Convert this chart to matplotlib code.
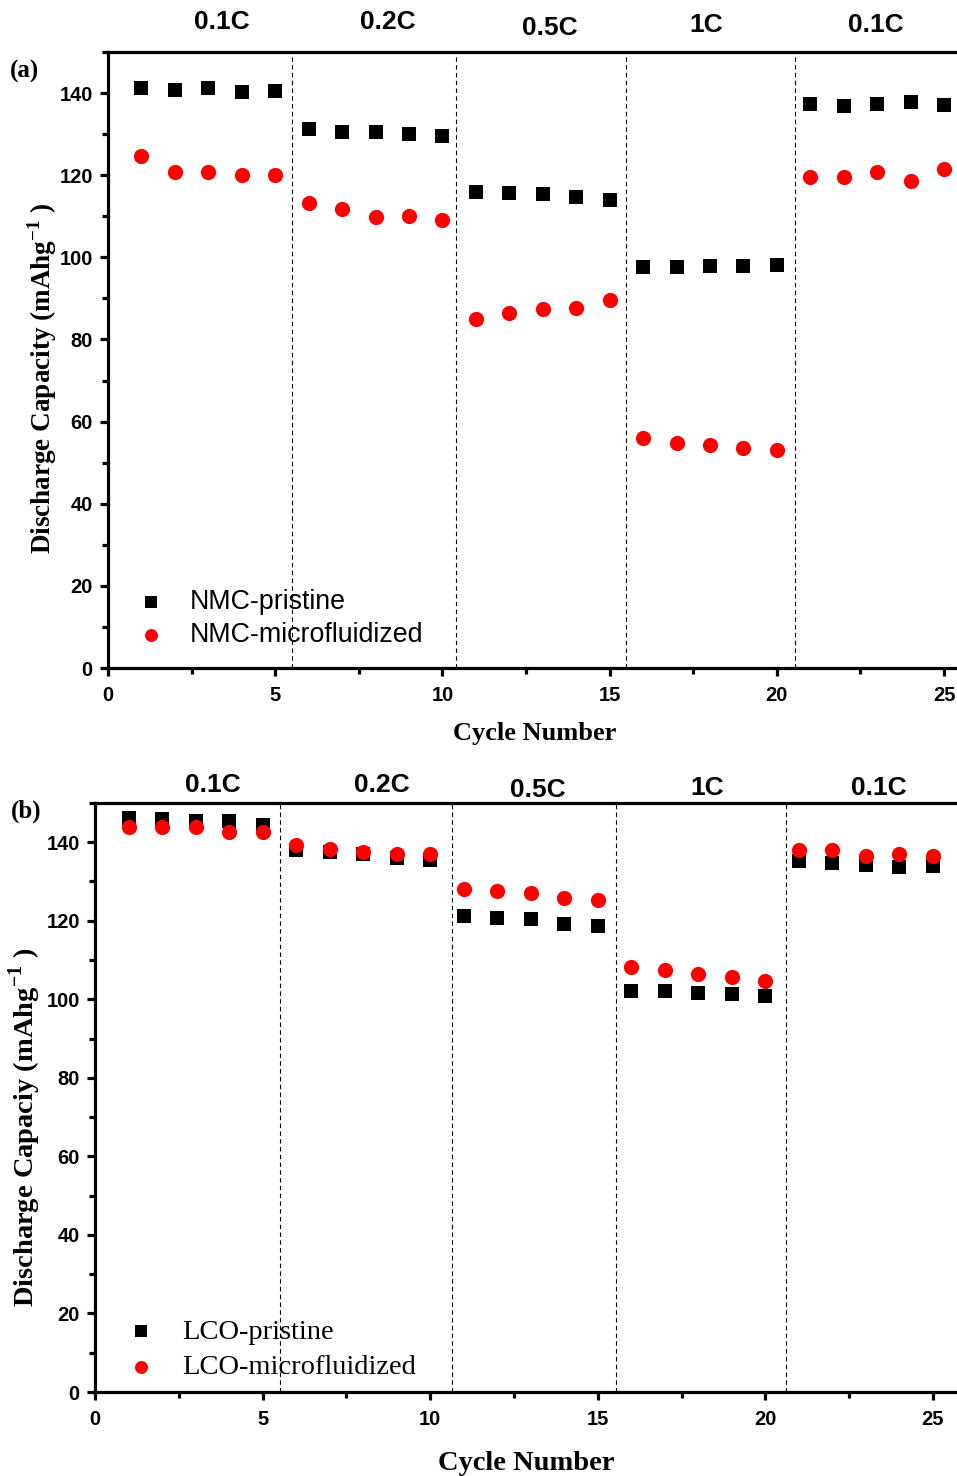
import matplotlib
matplotlib.use("Agg")
import matplotlib.pyplot as plt
import matplotlib.transforms as mtransforms
from matplotlib.ticker import MultipleLocator

plt.rcParams["mathtext.fontset"] = "custom"
plt.rcParams["mathtext.rm"] = "Liberation Serif"
plt.rcParams["mathtext.bf"] = "Liberation Serif:bold"

cycles = list(range(1, 26))

nmc_pristine = [141.2, 140.7, 141.2, 140.2, 140.5,
                131.3, 130.6, 130.6, 130.1, 129.6,
                115.9, 115.7, 115.5, 114.7, 114.0,
                97.7, 97.7, 98.0, 98.0, 98.2,
                137.3, 136.9, 137.3, 137.8, 137.1]
nmc_micro = [124.7, 120.8, 120.8, 120.1, 120.1,
             113.3, 111.8, 109.9, 110.1, 109.1,
             85.1, 86.5, 87.3, 87.7, 89.7,
             55.9, 54.9, 54.2, 53.5, 53.0,
             119.6, 119.6, 120.8, 118.6, 121.5]

lco_pristine = [146.1, 145.8, 145.3, 145.3, 144.5,
                137.9, 137.4, 136.9, 136.1, 135.4,
                121.1, 120.6, 120.4, 119.3, 118.6,
                102.0, 102.0, 101.5, 101.3, 100.8,
                135.1, 134.6, 134.3, 133.8, 134.0]
lco_micro = [144.0, 143.8, 143.8, 142.7, 142.7,
             139.2, 138.2, 137.4, 136.9, 137.1,
             128.2, 127.7, 127.0, 125.9, 125.2,
             108.1, 107.4, 106.5, 105.6, 104.7,
             138.1, 138.1, 136.4, 137.1, 136.4]

rate_labels = ["0.1C", "0.2C", "0.5C", "1C", "0.1C"]
rate_pos_a = [3.41, 8.37, 13.2, 17.88, 22.97]
rate_pos_b = [3.52, 8.56, 13.2, 18.26, 23.4]
rate_y_a = [1.048, 1.048, 1.039, 1.043, 1.043]
rate_y_b = [1.030, 1.030, 1.022, 1.025, 1.025]
dividers_a = [5.5, 10.41, 15.49, 20.54]
dividers_b = [5.52, 10.65, 15.54, 20.61]

SANS = "Liberation Sans"
SERIF = "Liberation Serif"

fig = plt.figure(figsize=(9.57, 14.76), dpi=100)
ax_a = fig.add_axes([0.1129, 0.5474, 0.891, 0.4174])
ax_b = fig.add_axes([0.0993, 0.0569, 0.9018, 0.3991])


def style_axes(ax, xmax):
    ax.set_xlim(0, xmax)
    ax.set_ylim(0, 150)
    ax.xaxis.set_major_locator(MultipleLocator(5))
    ax.xaxis.set_minor_locator(MultipleLocator(2.5))
    ax.yaxis.set_major_locator(MultipleLocator(20))
    ax.yaxis.set_minor_locator(MultipleLocator(10))
    for s in ax.spines.values():
        s.set_linewidth(2.3)
    ax.tick_params(which="major", direction="out", length=6, width=2.3,
                   top=False, right=False)
    ax.tick_params(axis="x", which="major", pad=7)
    ax.tick_params(axis="y", which="major", pad=5)
    ax.tick_params(which="minor", direction="out", length=4, width=2.3,
                   top=False, right=False)
    for lab in ax.get_xticklabels() + ax.get_yticklabels():
        lab.set_fontfamily(SANS)
        lab.set_fontweight("bold")
        lab.set_fontsize(14.5)


def panel(ax, xmax, y1, y2, names, legend_font, legend_size, dividers,
          rate_pos, rate_y, ylabel, ylabel_size, ylabel_xy, xlabel_size,
          xlabel_pad, tag, tag_xy, leg_anchor, leg_spacing):
    ax.scatter(cycles, y1, marker="s", s=100, color="black", label=names[0],
               zorder=3, linewidths=0)
    ax.scatter(cycles, y2, marker="o", s=120, color="red", label=names[1],
               zorder=4, linewidths=0)
    for d in dividers:
        ax.axvline(d, color="black", lw=0.8, ls=(0, (4, 3)), zorder=1)
    style_axes(ax, xmax)
    trans = mtransforms.blended_transform_factory(ax.transData, ax.transAxes)
    for lab, xp, yp in zip(rate_labels, rate_pos, rate_y):
        ax.text(xp, yp, lab, transform=trans, ha="center", va="center",
                fontfamily=SANS, fontweight="bold", fontsize=19)
    ax.set_xlabel("Cycle Number", fontfamily=SERIF, fontweight="bold",
                  fontsize=xlabel_size, labelpad=xlabel_pad)
    ax.set_ylabel(ylabel, fontfamily=SERIF, fontweight="bold",
                  fontsize=ylabel_size)
    ax.yaxis.set_label_coords(*ylabel_xy)
    ax.text(tag_xy[0], tag_xy[1], tag, transform=ax.transAxes,
            fontfamily=SERIF, fontweight="bold", fontsize=18,
            ha="left", va="center")
    ax.legend(loc="lower left", bbox_to_anchor=leg_anchor, frameon=False,
              prop={"family": legend_font, "size": legend_size},
              handletextpad=0.45, labelspacing=leg_spacing, borderaxespad=0,
              markerscale=0.85)


panel(ax_a, 25.5, nmc_pristine, nmc_micro,
      ["NMC-pristine", "NMC-microfluidized"], SANS, 19.3, dividers_a,
      rate_pos_a, rate_y_a, r"Discharge Capacity (mAhg$^{\mathbf{-1}}$ )",
      19.5, (-0.058, 0.47), 19, 12, "(a)", (-0.115, 0.968),
      (0.006, 0.015), 0.25)
panel(ax_b, 25.75, lco_pristine, lco_micro,
      ["LCO-pristine", "LCO-microfluidized"], SERIF, 20.5, dividers_b,
      rate_pos_b, rate_y_b, r"Discharge Capaciy (mAhg$^{\mathbf{-1}}$ )",
      20.5, (-0.06, 0.449), 20.5, 16, "(b)", (-0.097, 0.985),
      (0.007, 0.001), 0.33)

fig.savefig("out.png", dpi=100)
